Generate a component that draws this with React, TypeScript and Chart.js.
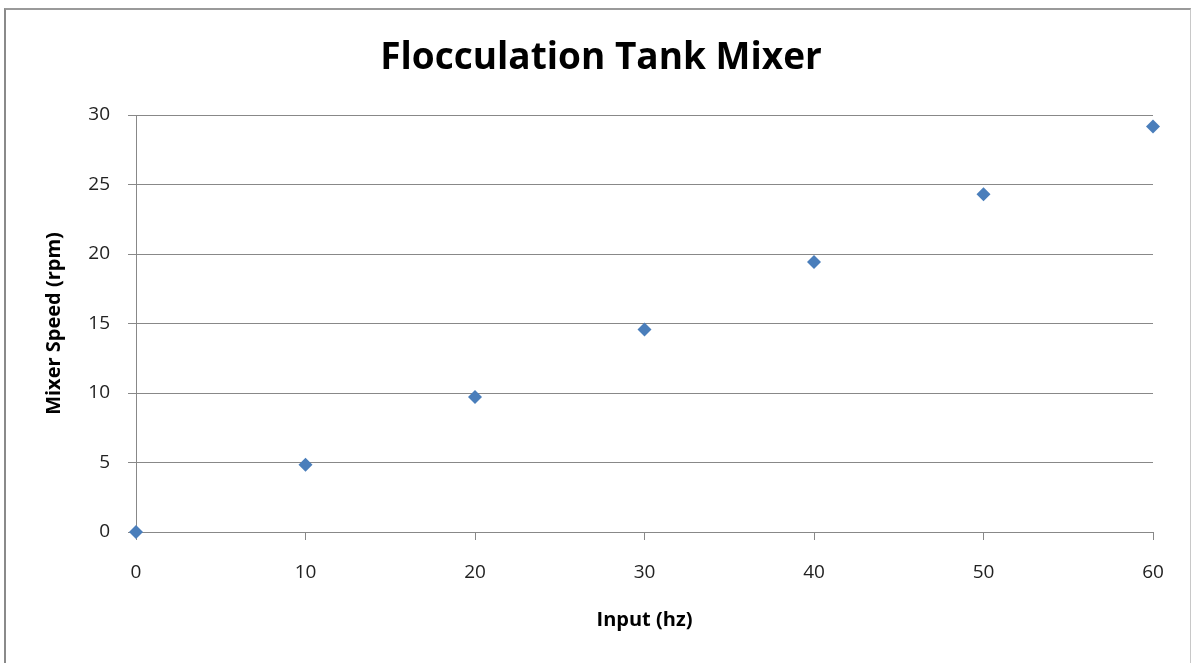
import React, { useEffect, useRef } from "react";
import { Chart, registerables } from "chart.js";

Chart.register(...registerables);

const inputHz = [0, 10, 20, 30, 40, 50, 60];
const mixerRpm = [0, 4.84, 9.72, 14.57, 19.43, 24.3, 29.17];
const titleText = "Flocculation Tank Mixer";
const xTitle = "Input (hz)";
const yTitle = "Mixer Speed (rpm)";

const FONT = "'Open Sans', 'DejaVu Sans', sans-serif";

export default function App() {
  const ref = useRef<HTMLCanvasElement | null>(null);

  useEffect(() => {
    const canvas = ref.current;
    if (!canvas) return;
    const chart = new Chart(canvas, {
      type: "scatter",
      data: {
        datasets: [
          {
            label: "Mixer",
            data: inputHz.map((x, i) => ({ x, y: mixerRpm[i] })),
            pointStyle: "rectRot",
            pointRadius: 7,
            pointBackgroundColor: "#4a7ebb",
            pointBorderColor: "#4a7ebb",
            pointBorderWidth: 0,
            showLine: false,
            clip: false,
          },
        ],
      },
      options: {
        animation: false,
        responsive: false,
        maintainAspectRatio: false,
        layout: { padding: { left: 49, right: 40, top: 0, bottom: 0 } },
        plugins: {
          legend: { display: false },
          tooltip: { enabled: false },
          title: {
            display: true,
            text: titleText,
            color: "#000",
            font: { family: FONT, size: 37, weight: "bold", lineHeight: 1.2 },
            padding: { top: 35.8, bottom: 34.8 },
          },
        },
        scales: {
          x: {
            type: "linear",
            min: 0,
            max: 60,
            ticks: {
              stepSize: 10,
              color: "#222",
              font: { family: FONT, size: 19 },
              padding: 21,
              maxRotation: 0,
            },
            grid: {
              drawOnChartArea: false,
              drawTicks: true,
              tickLength: 8,
              color: "#888",
              lineWidth: 1,
            },
            border: { color: "#888", width: 1 },
            title: {
              display: true,
              text: xTitle,
              color: "#000",
              font: { family: FONT, size: 20, weight: "bold", lineHeight: 1.2 },
              padding: { top: 0, bottom: 31 },
            },
            afterFit: (scale: any) => {
              scale.height = 131;
            },
          },
          y: {
            type: "linear",
            min: 0,
            max: 30,
            ticks: {
              stepSize: 5,
              color: "#222",
              font: { family: FONT, size: 19 },
              padding: 18,
            },
            grid: {
              color: "#888",
              tickLength: 8,
              lineWidth: 1,
            },
            border: { color: "#888", width: 1 },
            title: {
              display: true,
              text: yTitle,
              color: "#000",
              font: { family: FONT, size: 20, weight: "bold", lineHeight: 1.2 },
              padding: { top: -7, bottom: 0 },
            },
            afterFit: (scale: any) => {
              scale.width = 87;
            },
          },
        },
      },
    });
    return () => chart.destroy();
  }, []);

  return (
    <div style={{ position: "absolute", left: 0, top: 0, width: 1193, height: 663, background: "#fff", overflow: "hidden" }}>
      <div
        style={{
          position: "absolute",
          left: 4,
          top: 8,
          width: 1184,
          height: 700,
          borderLeft: "2px solid #8a8a8a",
          borderTop: "2px solid #9a9a9a",
          borderRight: "1px solid #c8c8c8",
        }}
      />
      <canvas ref={ref} width={1193} height={663} style={{ position: "absolute", left: 0, top: 0 }} />
    </div>
  );
}
